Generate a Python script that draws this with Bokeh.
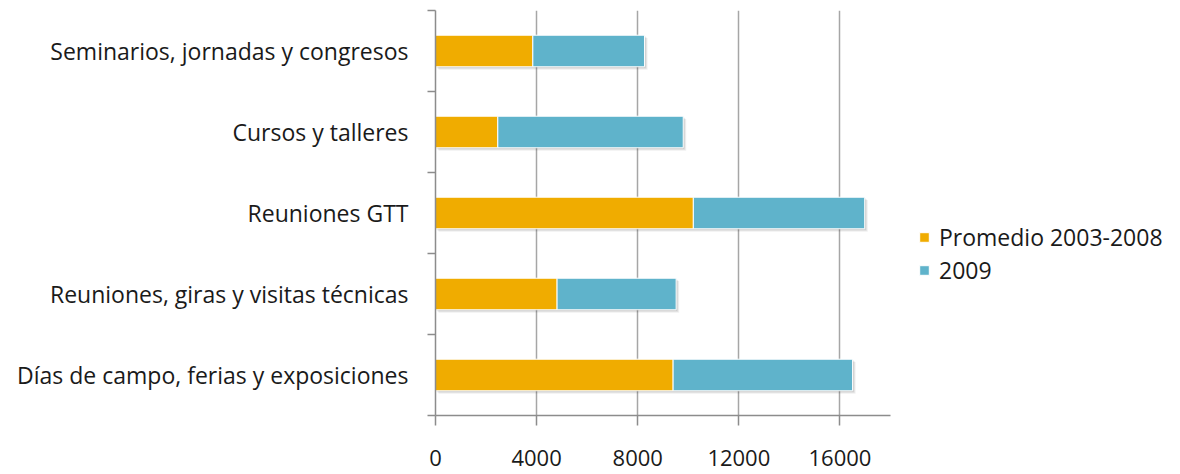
from bokeh.plotting import figure
from bokeh.models import FixedTicker, Legend, LegendItem, ColumnDataSource, Range1d
from bokeh.transform import dodge
from bokeh.embed import file_html
from bokeh.resources import INLINE

categories = ["Días de campo, ferias y exposiciones",
              "Reuniones, giras y visitas técnicas",
              "Reuniones GTT",
              "Cursos y talleres",
              "Seminarios, jornadas y congresos"]
promedio = [9400, 4810, 10200, 2465, 3850]
y2009 = [7100, 4710, 6780, 7335, 4420]
x_ticks = [0, 4000, 8000, 12000, 16000]
series_names = ["Promedio 2003-2008", "2009"]
colors = ["#F0AC00", "#5FB3CB"]

ypos = [i + 0.5 for i in range(len(categories))]
totals = [a + b for a, b in zip(promedio, y2009)]
src = ColumnDataSource(dict(y=ypos, p=promedio, t=totals, z=[0] * len(ypos)))

FONT = "Open Sans"
FS = "23px"
p = figure(frame_width=455, frame_height=405, output_backend="svg", toolbar_location=None,
           x_range=Range1d(0, 18000), y_range=Range1d(0, 5),
           min_border_left=435, min_border_right=0, min_border_top=10, min_border_bottom=59)
p.outline_line_color = None
p.background_fill_color = "white"
p.border_fill_color = "white"

# soft drop shadow (style only)
for k, a in [(1, 0.10), (2, 0.08), (3, 0.06)]:
    p.hbar(y=dodge("y", -0.012 * k), left=dodge("z", 40 * k), right=dodge("t", 40 * k),
           height=0.39, source=src, fill_color="#000000", fill_alpha=a, line_color=None)

r1 = p.hbar(y="y", left=0, right="p", height=0.39, source=src,
            fill_color=colors[0], line_color="white", line_width=1)
r2 = p.hbar(y="y", left="p", right="t", height=0.39, source=src,
            fill_color=colors[1], line_color="white", line_width=1)

# axes
p.xaxis.ticker = FixedTicker(ticks=x_ticks)
p.xaxis.axis_line_color = "#8c8c8c"
p.xaxis.axis_line_width = 1.5
p.xaxis.major_tick_line_color = "#8c8c8c"
p.xaxis.major_tick_line_width = 1.5
p.xaxis.major_tick_out = 10
p.xaxis.major_tick_in = 0
p.xaxis.minor_tick_line_color = None
p.xaxis.major_label_standoff = 24
p.xaxis.major_label_text_font = FONT
p.xaxis.major_label_text_font_size = "22px"
p.xaxis.major_label_text_color = "#1a1a1a"

p.yaxis.ticker = FixedTicker(ticks=ypos, minor_ticks=[0, 1, 2, 3, 4, 5])
p.yaxis.major_label_overrides = {y: c for y, c in zip(ypos, categories)}
p.yaxis.axis_line_color = "#8c8c8c"
p.yaxis.axis_line_width = 1.5
p.yaxis.major_tick_line_color = None
p.yaxis.major_tick_out = 8
p.yaxis.minor_tick_line_color = "#8c8c8c"
p.yaxis.minor_tick_line_width = 1.5
p.yaxis.minor_tick_out = 8
p.yaxis.minor_tick_in = 0
p.yaxis.major_label_standoff = 19
p.yaxis.major_label_text_font = FONT
p.yaxis.major_label_text_font_size = FS
p.yaxis.major_label_text_color = "#1a1a1a"

p.xgrid.ticker = FixedTicker(ticks=x_ticks)
p.xgrid.grid_line_color = "#a6a6a6"
p.xgrid.grid_line_width = 1.5
p.ygrid.grid_line_color = None

legend = Legend(items=[LegendItem(label=series_names[0], renderers=[r1]),
                       LegendItem(label=series_names[1], renderers=[r2])],
                location=(28, 129), orientation="vertical")
legend.glyph_width = 12
legend.glyph_height = 12
legend.label_height = 24
legend.spacing = 1
legend.padding = 0
legend.margin = 0
legend.label_standoff = 9
legend.border_line_color = None
legend.background_fill_alpha = 0
legend.label_text_font = FONT
legend.label_text_font_size = FS
legend.label_text_color = "#1a1a1a"
p.add_layout(legend, "right")

open("out.html", "w").write(file_html(p, INLINE))
